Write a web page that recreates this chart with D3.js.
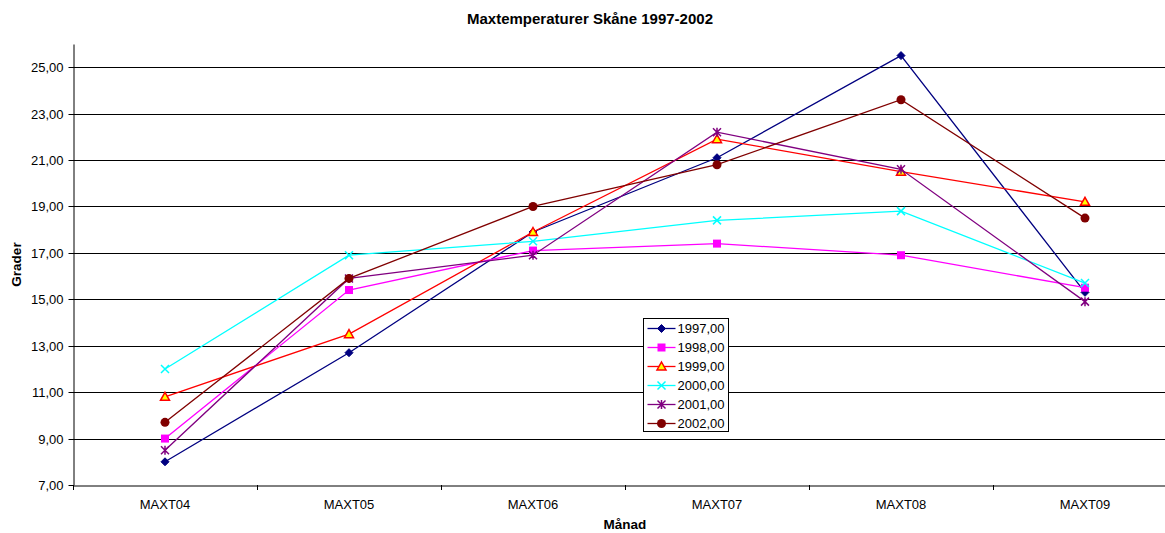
<!DOCTYPE html>
<html>
<head>
<meta charset="utf-8">
<script src="https://cdn.jsdelivr.net/npm/d3@7"></script>
<style>
  html, body { margin: 0; padding: 0; background: #fff; }
  svg { display: block; font-family: "Liberation Sans", Arial, sans-serif; }
</style>
</head>
<body>
<svg id="chart" width="1165" height="533"></svg>
<script>
// Monthly maximum temperatures, Skåne
const months = ["MAXT04", "MAXT05", "MAXT06", "MAXT07", "MAXT08", "MAXT09"];
const years = ["1997,00", "1998,00", "1999,00", "2000,00", "2001,00", "2002,00"];
const t1997 = [8.0, 12.7, 17.9, 21.1, 25.5, 15.3];
const t1998 = [9.0, 15.4, 17.1, 17.4, 16.9, 15.5];
const t1999 = [10.8, 13.5, 17.9, 21.9, 20.5, 19.2];
const t2000 = [12.0, 16.9, 17.5, 18.4, 18.8, 15.7];
const t2001 = [8.5, 15.9, 16.9, 22.2, 20.6, 14.9];
const t2002 = [9.7, 15.9, 19.0, 20.8, 23.6, 18.5];
const yTicks = [7, 9, 11, 13, 15, 17, 19, 21, 23, 25];

const seriesValues = [t1997, t1998, t1999, t2000, t2001, t2002];
const colors = ["#000080", "#FF00FF", "#FF0000", "#00FFFF", "#800080", "#800000"];
const markers = ["diamond", "square", "triangle", "cross", "star", "circle"];

const svg = d3.select("#chart");
const plotLeft = 73, plotRight = 1177, plotTop = 44, plotBottom = 485;
const FONT = "Liberation Sans, Arial, sans-serif";

const x = d3.scaleBand().domain(months).range([plotLeft, plotRight]);
const y = d3.scaleLinear().domain([7, 26]).range([plotBottom, plotTop]);
const fmt = v => d3.format(".2f")(v).replace(".", ",");
const py = v => Math.round(y(v)) + 0.5;

// Title
svg.append("text").attr("x", 590).attr("y", 24).attr("text-anchor", "middle")
  .attr("font-size", 15).attr("font-weight", "bold").text("Maxtemperaturer Skåne 1997-2002");

// Gridlines
svg.append("g").selectAll("line").data(yTicks.filter(d => d > 7)).join("line")
  .attr("x1", plotLeft).attr("x2", plotRight)
  .attr("y1", py).attr("y2", py)
  .attr("stroke", "#000").attr("stroke-width", 1);

// Y axis
const yAxis = svg.append("g").attr("transform", `translate(${plotLeft + 0.5},0)`)
  .call(d3.axisLeft(y).tickValues(yTicks).tickFormat(fmt).tickSize(5).tickSizeOuter(0));
yAxis.select(".domain").attr("stroke", "#000");
yAxis.selectAll(".tick").attr("transform", d => `translate(0,${py(d)})`);
yAxis.selectAll(".tick line").attr("stroke", "#000");
yAxis.selectAll("text").attr("font-size", 13).attr("font-family", FONT)
  .attr("fill", "#000").attr("x", -10);

// X axis
const xAxis = svg.append("g").attr("transform", `translate(0,${plotBottom + 0.5})`)
  .call(d3.axisBottom(x).tickSize(0).tickSizeOuter(0));
xAxis.select(".domain").attr("stroke", "#000");
xAxis.selectAll("text").attr("font-size", 13).attr("font-family", FONT)
  .attr("fill", "#000").attr("dy", 0).attr("y", 23.5);
// Tick marks between categories
svg.append("g").selectAll("line").data(d3.range(months.length + 1)).join("line")
  .attr("x1", i => Math.round(plotLeft + i * x.step()) + 0.5)
  .attr("x2", i => Math.round(plotLeft + i * x.step()) + 0.5)
  .attr("y1", plotBottom).attr("y2", plotBottom + 5).attr("stroke", "#000");

// Axis titles
svg.append("text").attr("x", (plotLeft + plotRight) / 2).attr("y", 529).attr("text-anchor", "middle")
  .attr("font-size", 13.5).attr("font-weight", "bold").text("Månad");
svg.append("text").attr("transform", `translate(21,${(plotTop + plotBottom) / 2}) rotate(-90)`)
  .attr("text-anchor", "middle")
  .attr("font-size", 13.5).attr("font-weight", "bold").text("Grader");

// Marker drawing
function drawMarker(g, type, color, cx, cy) {
  if (type === "diamond") {
    g.append("path").attr("d", `M${cx},${cy - 4}L${cx + 4},${cy}L${cx},${cy + 4}L${cx - 4},${cy}Z`)
      .attr("fill", color).attr("stroke", color);
  } else if (type === "square") {
    g.append("rect").attr("x", cx - 4).attr("y", cy - 4).attr("width", 8).attr("height", 8)
      .attr("fill", color);
  } else if (type === "triangle") {
    g.append("path").attr("d", `M${cx},${cy - 4.5}L${cx + 4.5},${cy + 3.5}L${cx - 4.5},${cy + 3.5}Z`)
      .attr("fill", "#FFFF00").attr("stroke", color).attr("stroke-width", 1.5);
  } else if (type === "cross") {
    g.append("path").attr("d", `M${cx - 4},${cy - 4}L${cx + 4},${cy + 4}M${cx - 4},${cy + 4}L${cx + 4},${cy - 4}`)
      .attr("stroke", color).attr("stroke-width", 1.5).attr("fill", "none");
  } else if (type === "star") {
    g.append("path").attr("d", `M${cx - 4},${cy - 4}L${cx + 4},${cy + 4}M${cx - 4},${cy + 4}L${cx + 4},${cy - 4}M${cx},${cy - 4.5}L${cx},${cy + 4.5}`)
      .attr("stroke", color).attr("stroke-width", 1.5).attr("fill", "none");
  } else if (type === "circle") {
    g.append("circle").attr("cx", cx).attr("cy", cy).attr("r", 4.5).attr("fill", color);
  }
}

// Series lines and markers
const line = d3.line().x((d, i) => x(months[i]) + x.bandwidth() / 2).y(d => y(d));
seriesValues.forEach((vals, s) => {
  const g = svg.append("g");
  g.append("path").datum(vals).attr("d", line).attr("fill", "none")
    .attr("stroke", colors[s]).attr("stroke-width", 1.3);
  vals.forEach((v, i) => drawMarker(g, markers[s], colors[s], x(months[i]) + x.bandwidth() / 2, y(v)));
});

// Legend
const lg = svg.append("g").attr("transform", "translate(643.5,318.5)");
lg.append("rect").attr("width", 85).attr("height", 113).attr("fill", "#fff").attr("stroke", "#000");
years.forEach((yr, s) => {
  const cy = 10 + s * 19;
  lg.append("line").attr("x1", 4).attr("x2", 32).attr("y1", cy).attr("y2", cy)
    .attr("stroke", colors[s]).attr("stroke-width", 1.3);
  drawMarker(lg, markers[s], colors[s], 18, cy);
  lg.append("text").attr("x", 34).attr("y", cy + 4.5).attr("font-size", 13).text(yr);
});
</script>
</body>
</html>
